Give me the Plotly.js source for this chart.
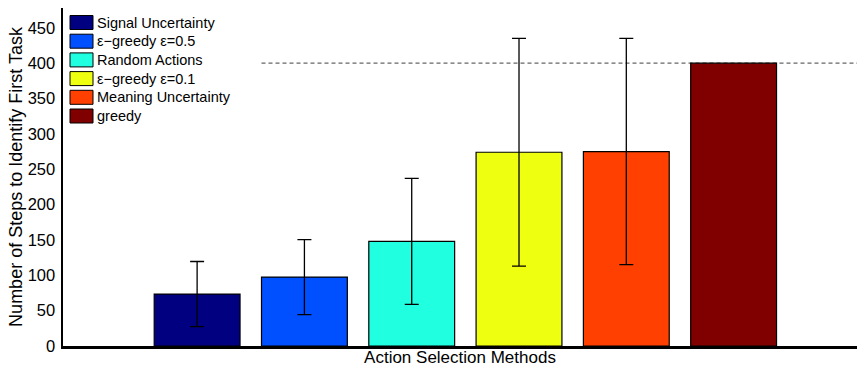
<!DOCTYPE html>
<html>
<head>
<meta charset="utf-8">
<script src="https://cdn.plot.ly/plotly-3.0.1.min.js"></script>
<style>html,body{margin:0;padding:0;background:#fff;}#chart{width:857px;height:367px;}</style>
</head>
<body>
<div id="chart"></div>
<script>
const methods = ["Signal Uncertainty", "ε−greedy ε=0.5", "Random Actions", "ε−greedy ε=0.1", "Meaning Uncertainty", "greedy"];
const meanSteps = [73.5, 97.5, 148, 274, 275, 400];
const errSteps = [46, 53, 89, 161, 160, 0];
const colors = ["#000080", "#0050ff", "#20ffdf", "#efff10", "#ff4000", "#800000"];
const thresholdValue = 400;
const yTicks = [0, 50, 100, 150, 200, 250, 300, 350, 400, 450];

const font = "Liberation Sans, Arial, Helvetica, sans-serif";
const W = 857, H = 367, ML = 63, MR = 0, MT = 8, MB = 21;
const PW = W - ML - MR, PH = H - MT - MB;
const px2x = p => (p - ML) / PW;
const py2y = p => (H - MB - p) / PH;

const traces = methods.map((m, i) => ({
  type: "bar",
  name: m,
  x: [m],
  y: [meanSteps[i]],
  width: 0.8,
  marker: {color: colors[i], line: {color: "#000", width: 1.2}},
  error_y: {type: "data", array: [errSteps[i]], visible: errSteps[i] > 0, color: "#000", thickness: 1.3, width: 7},
  showlegend: false,
  hoverinfo: "skip"
}));

// Manual legend (MATLAB style) built from the methods / colors arrays
const legShapes = [], legAnn = [];
methods.forEach((m, i) => {
  const cy = 22.5 + 18.7 * i;
  legShapes.push({
    type: "rect", xref: "paper", yref: "paper",
    x0: px2x(70), x1: px2x(93), y0: py2y(cy + 7), y1: py2y(cy - 7),
    fillcolor: colors[i], line: {color: "#000", width: 1}
  });
  legAnn.push({
    xref: "paper", yref: "paper", x: px2x(95), y: py2y(cy),
    xanchor: "left", yanchor: "middle", showarrow: false,
    text: m, font: {family: font, size: 14.5, color: "#000"}
  });
});

const layout = {
  width: W, height: H,
  margin: {l: ML, r: MR, t: MT, b: MB},
  paper_bgcolor: "#fff", plot_bgcolor: "#fff",
  barmode: "overlay",
  font: {family: font, color: "#000", size: 17},
  showlegend: false,
  xaxis: {
    type: "category",
    categoryorder: "array", categoryarray: methods,
    range: [-1.25, 6.15],
    showticklabels: false, ticks: "",
    showline: true, linecolor: "#000", linewidth: 2.5,
    showgrid: false, zeroline: false,
    title: {text: "Action Selection Methods", font: {family: font, size: 17, color: "#000"}, standoff: 4},
    automargin: false
  },
  yaxis: {
    range: [0, 478],
    tickvals: yTicks, ticktext: yTicks.map(String),
    ticks: "", ticklabelstandoff: 2,
    showline: true, linecolor: "#000", linewidth: 2.5,
    showgrid: false, zeroline: false,
    tickfont: {family: font, size: 16.5, color: "#000"},
    title: {text: "Number of Steps to Identify First Task", font: {family: font, size: 18, color: "#000"}, standoff: 1},
    automargin: false
  },
  shapes: [{
    type: "line", xref: "x", yref: "y",
    x0: 0.6, x1: 6.15, y0: thresholdValue, y1: thresholdValue,
    line: {color: "#666", width: 1.2, dash: "4px,3px"},
    layer: "below"
  }].concat(legShapes),
  annotations: legAnn
};

Plotly.newPlot("chart", traces, layout, {staticPlot: true, displayModeBar: false});
</script>
</body>
</html>
